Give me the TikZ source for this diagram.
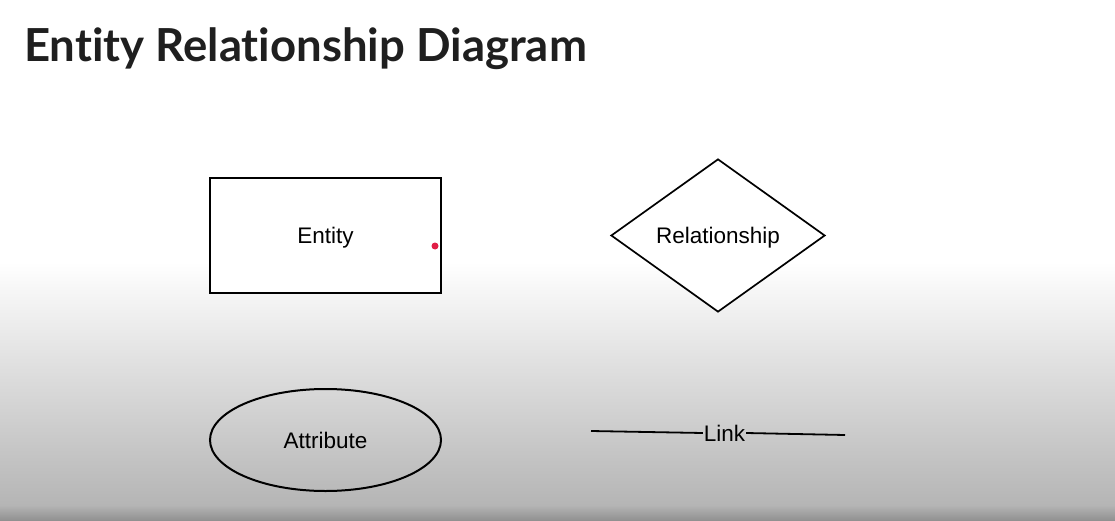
\documentclass[tikz,border=0pt]{standalone}
\usepackage{fontspec}
\setmainfont{Liberation Sans}
\newfontfamily\titlefont[Ligatures=NoCommon]{Lato}
\usetikzlibrary{shapes.geometric}
\definecolor{dotred}{RGB}{225,30,70}
\tikzset{
	shape label/.style={font=\fontsize{22.5}{26}\selectfont, line width=2pt, inner sep=0pt, text depth=0pt},
	reddot/.style={circle, fill=dotred, inner sep=0pt, minimum size=7pt}
}
\begin{document}
\begin{tikzpicture}[x=1pt,y=-1pt]
		\useasboundingbox (0,0) rectangle (1115,521);
		\fill[white] (0,0) rectangle (1115,262);
		\shade[top color=white, bottom color=black!29] (0,262) rectangle (1115,505);
		\shade[top color=black!29, bottom color=black!44] (0,505) rectangle (1115,521);
		\node[anchor=base west, inner sep=0pt, font=\titlefont\bfseries\fontsize{45.5}{50}\selectfont, text=black!88] (title) at (24,62) {Entity Relationship Diagram};
		\node[shape label, draw, fill=white, rectangle, minimum width=231pt, minimum height=115pt] (entity) at (325.5,235.5) {Entity};
		\node[reddot] (dot) at (435,246) {};
		\node[shape label, draw, fill=white, diamond, line width=1.7pt, minimum width=214pt, minimum height=153pt] (rel) at (718,235.5) {Relationship};
		\node[shape label, draw, ellipse, minimum width=231pt, minimum height=102pt] (attr) at (325.5,440) {Attribute};
		\coordinate (linkl) at (591,431);
		\coordinate (linkr) at (845,435);
		\node[shape label] (link) at (724.5,433) {Link};
		\draw[line width=1.8pt] (linkl) -- (link.west);
		\draw[line width=1.8pt] (link.east) -- (linkr);
	\end{tikzpicture}
\end{document}
